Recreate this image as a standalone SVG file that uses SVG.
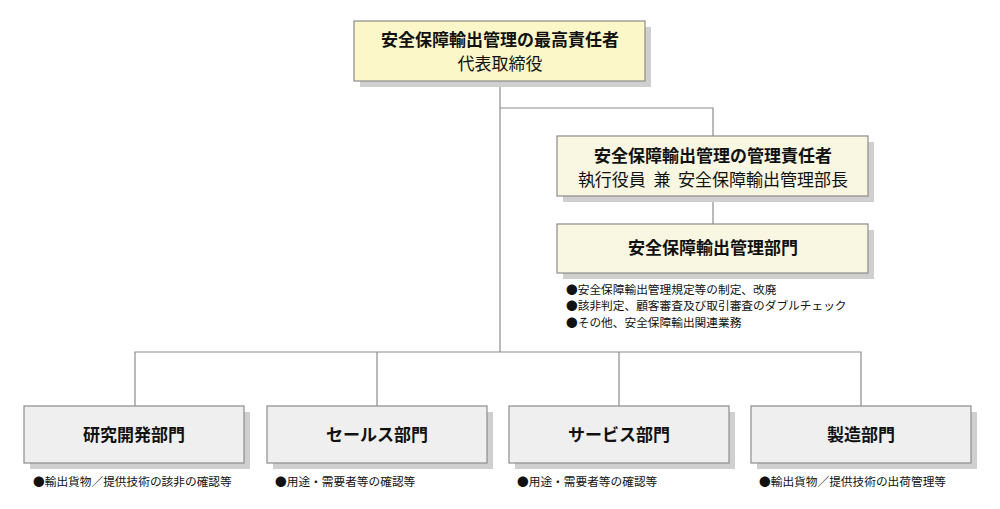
<svg xmlns="http://www.w3.org/2000/svg" width="1000" height="509" viewBox="0 0 1000 509">
<style>
text{font-family:"Noto Sans CJK JP","Noto Sans",sans-serif;fill:#111}
.b{font-size:17px;font-weight:bold;text-anchor:middle}
.r{font-size:17px;text-anchor:middle}
.s{font-size:11.7px}
.box{stroke:#8c8c8c;stroke-width:1.2}
.sh{fill:#cfcfcf}
.y{fill:#fcf7c8}
.c{fill:#f9f6e2}
.g{fill:#efefef}
.ln{stroke:#8c8c8c;stroke-width:1.2;fill:none}
</style>
<rect width="1000" height="509" fill="#fff"/>
<g id="connectors">
<path class="ln" d="M500 81V352M500 108H713V137M713 196V224M135 406V352H861V406M377 352V406M619 352V406"/>
</g>
<g id="top">
<rect class="sh" x="360" y="27" width="291" height="60"/>
<rect class="box y" x="354" y="21" width="291" height="60"/>
<text class="b" x="500" y="46">安全保障輸出管理の最高責任者</text>
<text class="r" x="500" y="70">代表取締役</text>
</g>
<g id="manager">
<rect class="sh" x="563" y="142" width="311" height="60"/>
<rect class="box c" x="557" y="136" width="311" height="60"/>
<text class="b" x="713" y="162">安全保障輸出管理の管理責任者</text>
<text class="r" x="713" y="186" xml:space="preserve">執行役員  兼  安全保障輸出管理部長</text>
</g>
<g id="dept">
<rect class="sh" x="563" y="230" width="311" height="49"/>
<rect class="box c" x="557" y="224" width="311" height="49"/>
<text class="b" x="713" y="254">安全保障輸出管理部門</text>
<text class="s" x="566" y="294">●安全保障輸出管理規定等の制定、改廃</text>
<text class="s" x="566" y="310">●該非判定、顧客審査及び取引審査のダブルチェック</text>
<text class="s" x="566" y="327">●その他、安全保障輸出関連業務</text>
</g>
<g id="rd">
<rect class="sh" x="30" y="412" width="220" height="57"/>
<rect class="box g" x="24" y="406" width="220" height="57"/>
<text class="b" x="134" y="441">研究開発部門</text>
<text class="s" x="33" y="486">●輸出貨物／提供技術の該非の確認等</text>
</g>
<g id="sales">
<rect class="sh" x="273" y="412" width="220" height="57"/>
<rect class="box g" x="267" y="406" width="220" height="57"/>
<text class="b" x="377" y="441">セールス部門</text>
<text class="s" x="275" y="486">●用途・需要者等の確認等</text>
</g>
<g id="service">
<rect class="sh" x="515" y="412" width="220" height="57"/>
<rect class="box g" x="509" y="406" width="220" height="57"/>
<text class="b" x="619" y="441">サービス部門</text>
<text class="s" x="517" y="486">●用途・需要者等の確認等</text>
</g>
<g id="mfg">
<rect class="sh" x="757" y="412" width="220" height="57"/>
<rect class="box g" x="751" y="406" width="220" height="57"/>
<text class="b" x="861" y="441">製造部門</text>
<text class="s" x="759" y="486">●輸出貨物／提供技術の出荷管理等</text>
</g>
</svg>
